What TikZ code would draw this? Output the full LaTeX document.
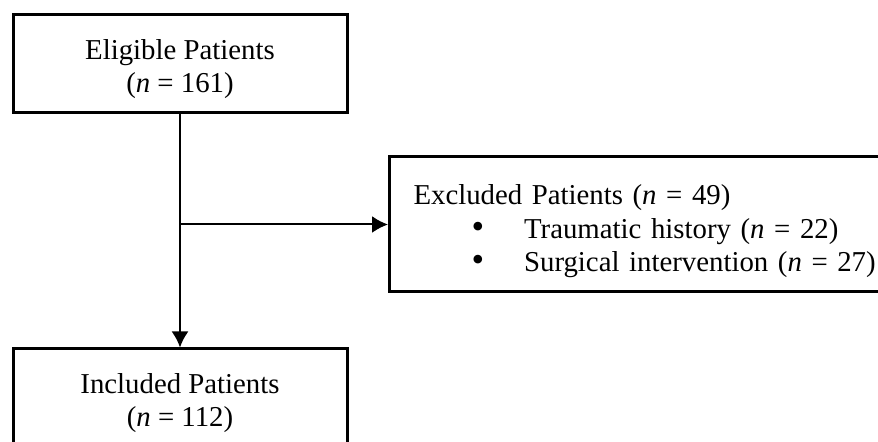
\documentclass[tikz,border=0pt]{standalone}
\usepackage{fontspec}
\setmainfont{Liberation Serif}
\usepackage{tikz}
\usetikzlibrary{arrows.meta, positioning, calc}

\newcommand{\bigbullet}{{\fontsize{18}{16.8}\selectfont\textbullet}}

\tikzset{
  flowbox/.style={draw, line width=1.5pt, rectangle, align=center,
    minimum width=167pt, minimum height=49pt, inner sep=0pt,
    font=\fontsize{14.4}{16.2}\selectfont},
  flowarrow/.style={line width=1pt, -{Latex[length=8pt,width=8.5pt]}}
}

\begin{document}
\begin{tikzpicture}[x=0.5pt, y=-0.5pt]
            % page size of the reference
            \clip (0,0) rectangle (878,442);
            \fill[white] (0,0) rectangle (878,442);

            % Draw the three boxes
            \node[flowbox] (elig) at (180,64) {\rule{0pt}{15pt}Eligible Patients\\(\textit{n} = 161)};
            \node[flowbox] (incl) at (180,398) {\rule{0pt}{15pt}Included Patients\\(\textit{n} = 112)};
            \node[flowbox, anchor=west, align=left, minimum width=260pt,
                  minimum height=67.5pt, text width=236pt, inner xsep=12pt,
                  font=\fontsize{14.4}{16.8}\selectfont] (excl) at (388,224.5)
                  {\rule{0pt}{17pt}Excluded Patients (\textit{n} = 49)\\
                   \hspace*{29pt}\bigbullet\hspace*{20pt}Traumatic history (\textit{n} = 22)\\
                   \hspace*{29pt}\bigbullet\hspace*{20pt}Surgical intervention (\textit{n} = 27)};

            % connectors
            \coordinate (split) at (elig.south |- excl.west);
            \draw[flowarrow] (elig.south) -- (incl.north);
            \draw[flowarrow] (split) -- (excl.west);
          \end{tikzpicture}
\end{document}
